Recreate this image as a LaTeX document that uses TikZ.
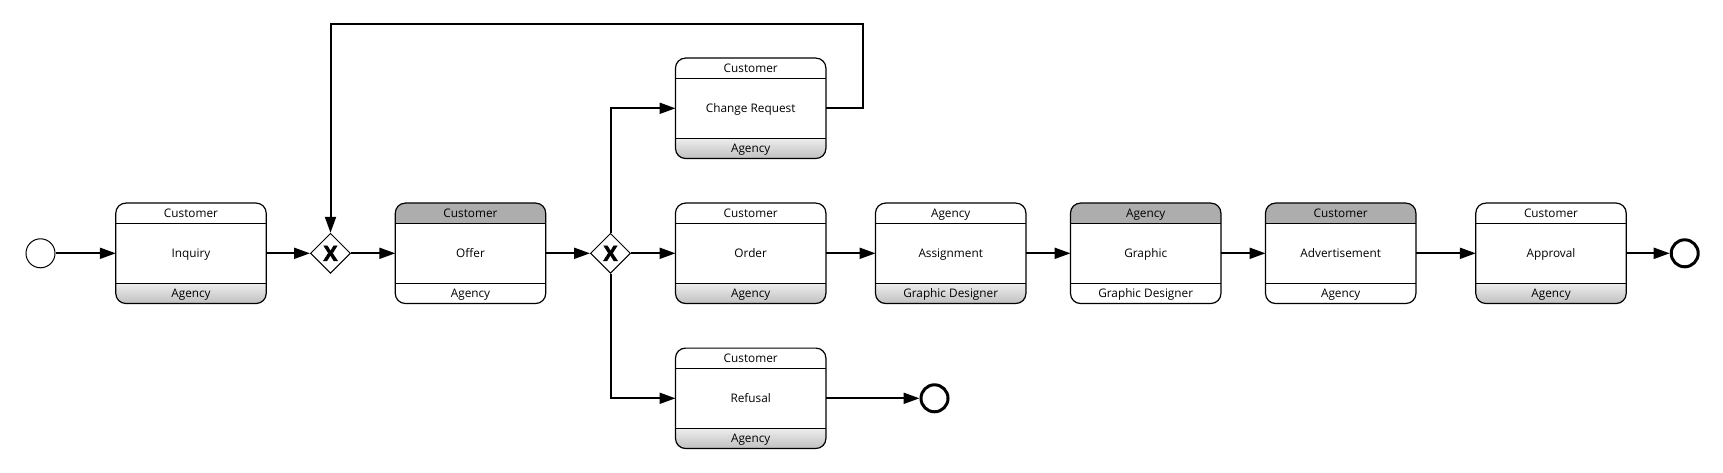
\documentclass[tikz,border=0pt]{standalone}
\usepackage{fontspec}
\setmainfont{Open Sans}
\newfontface\gwfont{Open Sans Bold}[FakeBold=2.5]
\usetikzlibrary{shapes.geometric,arrows.meta}
\definecolor{hdrgray}{HTML}{ADADAD}
\definecolor{ftrtop}{HTML}{EDEDED}
\definecolor{ftrbot}{HTML}{C0C0C0}
\tikzset{
  taskbox/.style={minimum width=150pt,minimum height=100pt,inner sep=0pt,
    text height=8.4pt,text depth=0pt,font=\fontsize{11.8}{13}\selectfont},
  taskline/.style={line width=1.2pt},
  lbl/.style={inner sep=0pt,anchor=base,font=\fontsize{11.8}{13}\selectfont},
  shadeH/.style={fill=hdrgray},
  shadeF/.style={top color=ftrtop,bottom color=ftrbot},
  plain/.style={fill=white},
  flow/.style={line width=2pt,-{Triangle[length=16pt,width=11pt]}},
  gw/.style={diamond,draw,line width=1pt,minimum width=40pt,minimum height=40pt,
    inner sep=0pt,fill=white,text height=15pt,text depth=0pt,
    font=\fontsize{21}{21}\gwfont},
  startev/.style={circle,draw,line width=1pt,minimum size=29pt,inner sep=0pt},
  endev/.style={circle,draw,line width=3pt,minimum size=27pt,inner sep=0pt},
}
\newcommand\bpmntask[8]{%
  \node[taskbox] (#1) at (#2,#3) {#5};
  \begin{scope}
    \clip[rounded corners=10pt] (#1.north west) rectangle (#1.south east);
    \path[#7] (#1.north west) rectangle ([yshift=-20pt]#1.north east);
    \path[#8] ([yshift=20pt]#1.south west) rectangle (#1.south east);
  \end{scope}
  \draw[taskline,rounded corners=10pt] (#1.north west) rectangle (#1.south east);
  \draw[line width=1pt] ([yshift=-20pt]#1.north west) -- ([yshift=-20pt]#1.north east);
  \draw[line width=1pt] ([yshift=20pt]#1.south west) -- ([yshift=20pt]#1.south east);
  \node[lbl] (#1-h) at ([yshift=-14.2pt]#1.north) {#4};
  \node[lbl] (#1-f) at ([yshift=5.8pt]#1.south) {#6};
}
\begin{document}
\begin{tikzpicture}[x=1pt,y=-1pt]
\useasboundingbox[fill=white] (0,0) rectangle (1723,473);

\node[startev] (s) at (40.5,253.3) {};
\bpmntask{inq}{191}{253.3}{Customer}{Inquiry}{Agency}{plain}{shadeF}
\node[gw] (g1) at (330.5,253.3) {X};
\bpmntask{off}{470.5}{253.3}{Customer}{Offer}{Agency}{shadeH}{plain}
\node[gw] (g2) at (610.5,253.3) {X};
\bpmntask{cr}{750.7}{108.3}{Customer}{Change Request}{Agency}{plain}{shadeF}
\bpmntask{ord}{750.7}{253.3}{Customer}{Order}{Agency}{plain}{shadeF}
\bpmntask{ref}{750.7}{398.3}{Customer}{Refusal}{Agency}{plain}{shadeF}
\bpmntask{asg}{950.7}{253.3}{Agency}{Assignment}{Graphic Designer}{plain}{shadeF}
\bpmntask{gra}{1145.7}{253.3}{Agency}{Graphic}{Graphic Designer}{shadeH}{plain}
\bpmntask{adv}{1340.7}{253.3}{Customer}{Advertisement}{Agency}{shadeH}{plain}
\bpmntask{app}{1551}{253.3}{Customer}{Approval}{Agency}{plain}{shadeF}
\node[endev] (e1) at (1684.7,253.3) {};
\node[endev] (e2) at (934.5,398.3) {};
\coordinate (loop) at (862.7,24);

\draw[flow] (s) -- (inq);
\draw[flow] (inq) -- (g1);
\draw[flow] (g1) -- (off);
\draw[flow] (off) -- (g2);
\draw[flow] (g2) -- (ord);
\draw[flow] (g2.north) |- (cr.west);
\draw[flow] (g2.south) |- (ref.west);
\draw[flow] (ref) -- (e2);
\draw[flow] (ord) -- (asg);
\draw[flow] (asg) -- (gra);
\draw[flow] (gra) -- (adv);
\draw[flow] (adv) -- (app);
\draw[flow] (app) -- (e1);
\draw[flow] (cr.east) -| (loop) -| (g1.north);
\end{tikzpicture}
\end{document}
